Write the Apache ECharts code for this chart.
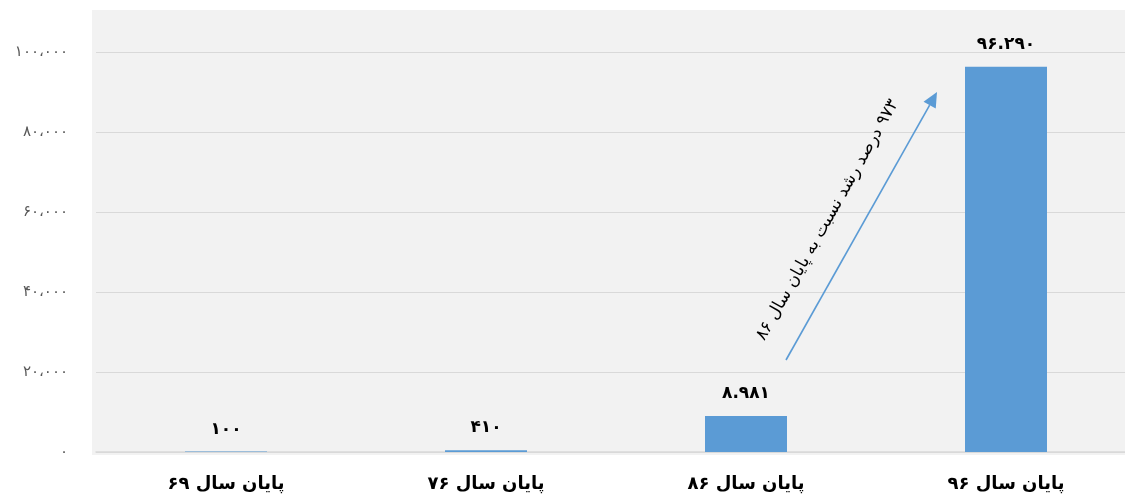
<!DOCTYPE html>
<html>
<head>
<meta charset="utf-8">
<script src="https://cdn.jsdelivr.net/npm/echarts@6/dist/echarts.min.js"></script>
<style>
html,body{margin:0;padding:0;background:#fff;overflow:hidden;}
#c{width:1136px;height:498px;}
</style>
</head>
<body>
<div id="c"></div>
<script>
const categories = ['پایان سال ۶۹', 'پایان سال ۷۶', 'پایان سال ۸۶', 'پایان سال ۹۶'];
const values = [100, 410, 8981, 96290];
const valueLabels = ['۱۰۰', '۴۱۰', '۸.۹۸۱', '۹۶.۲۹۰'];
const yTickValues = [0, 20000, 40000, 60000, 80000, 100000];
const yTickLabels = ['۰', '۲۰،۰۰۰', '۴۰،۰۰۰', '۶۰،۰۰۰', '۸۰،۰۰۰', '۱۰۰،۰۰۰'];
const annotationText = '\u202B۹۷۳ درصد رشد نسبت به پایان سال ۸۶\u202C';

const FONT = '"DejaVu Sans", "Noto Sans", sans-serif';
const chart = echarts.init(document.getElementById('c'));

chart.setOption({
  animation: false,
  grid: {left: 96, top: 52, width: 1040, height: 400, containLabel: false},
  xAxis: {
    type: 'category',
    data: categories,
    axisTick: {show: false},
    axisLine: {lineStyle: {color: '#d9d9d9', width: 1.5}},
    axisLabel: {color: '#000', fontSize: 18, fontWeight: 'bold', fontFamily: FONT, margin: 23}
  },
  yAxis: {
    type: 'value',
    min: 0, max: 100000, interval: 20000,
    axisLine: {show: false},
    axisTick: {show: false},
    splitLine: {lineStyle: {color: '#d9d9d9', width: 1.2}},
    axisLabel: {
      color: '#595959', fontSize: 15, fontFamily: FONT, margin: 28,
      formatter: function (v) { const i = yTickValues.indexOf(v); return i >= 0 ? yTickLabels[i] : ''; }
    }
  },
  series: [{
    type: 'bar',
    data: values,
    barWidth: 82,
    itemStyle: {color: '#5b9bd5'},
    label: {
      show: true, position: 'top', distance: 14,
      color: '#000', fontSize: 17, fontWeight: 'bold', fontFamily: FONT,
      formatter: function (p) { return valueLabels[p.dataIndex]; }
    }
  }]
});

// Annotation arrow positioned relative to bars via the chart's scales
const pBar3 = chart.convertToPixel({seriesIndex: 0}, [2, 23000]);
const pBar4 = chart.convertToPixel({seriesIndex: 0}, [3, 90000]);
const x1 = pBar3[0] + 40, y1 = pBar3[1];
const x2 = pBar4[0] - 69, y2 = pBar4[1];
const dx = x2 - x1, dy = y2 - y1;
const len = Math.sqrt(dx * dx + dy * dy);
const ux = dx / len, uy = dy / len;
const headLen = 15, headW = 7;
const bx = x2 - ux * headLen, by = y2 - uy * headLen;
const mx = (x1 + x2) / 2, my = (y1 + y2) / 2;
const tx = mx - 34, ty = my - 6;
const ang = Math.atan2(-dy, dx);

chart.setOption({
  graphic: [
    {type: 'rect', z: -10, silent: true,
     shape: {x: 92, y: 10, width: 1044, height: 445},
     style: {fill: '#f2f2f2'}},
    {type: 'line', z: 50,
     shape: {x1: x1, y1: y1, x2: bx, y2: by},
     style: {stroke: '#5b9bd5', lineWidth: 1.6}},
    {type: 'polygon', z: 50,
     shape: {points: [[x2, y2], [bx + (-uy) * headW, by + ux * headW], [bx - (-uy) * headW, by - ux * headW]]},
     style: {fill: '#5b9bd5'}},
    {type: 'text', z: 50,
     x: tx, y: ty, rotation: ang,
     style: {text: annotationText, fill: '#000', fontSize: 17, fontFamily: FONT, align: 'center', verticalAlign: 'middle'}}
  ]
});
</script>
</body>
</html>
